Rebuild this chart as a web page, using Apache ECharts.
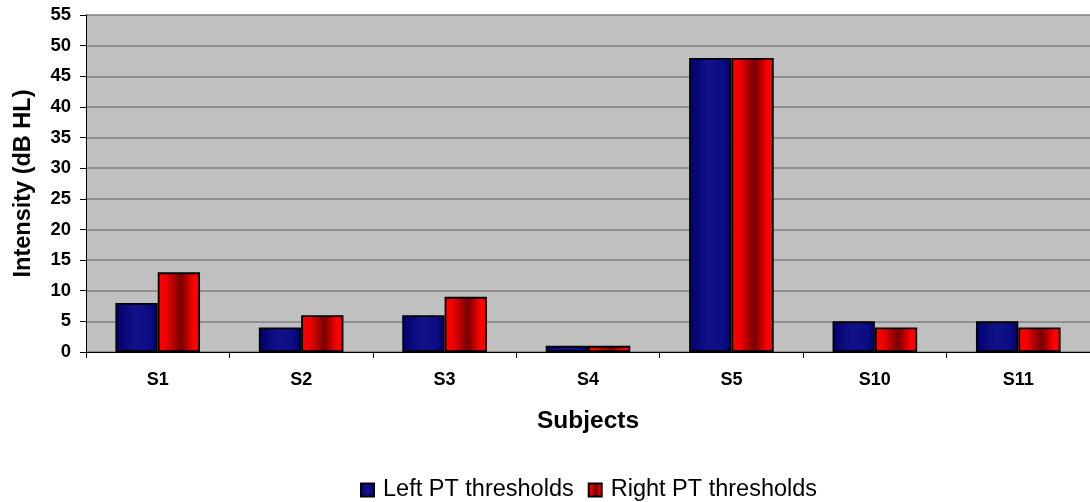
<!DOCTYPE html>
<html>
<head>
<meta charset="utf-8">
<script src="https://cdn.jsdelivr.net/npm/echarts@6/dist/echarts.min.js"></script>
<style>
html,body{margin:0;padding:0;background:#fff;}
#c{width:1090px;height:502px;}
</style>
</head>
<body>
<div id="c"></div>
<script>
var categories = ['S1','S2','S3','S4','S5','S10','S11'];
var leftPT = [8, 4, 6, 1, 48, 5, 5];
var rightPT = [13, 6, 9, 1, 48, 4, 4];
var seriesNames = ['Left PT thresholds', 'Right PT thresholds'];
var yTicks = {min: 0, max: 55, interval: 5};

var font = '"Liberation Sans", Arial, sans-serif';
var blueGrad = new echarts.graphic.LinearGradient(0,0,1,0,[
  {offset:0,color:'#00006e'},{offset:0.45,color:'#121288'},{offset:0.8,color:'#0c0c84'},{offset:1,color:'#000070'}]);
var redGrad = new echarts.graphic.LinearGradient(0,0,1,0,[
  {offset:0,color:'#ff0000'},{offset:0.2,color:'#f00000'},{offset:0.55,color:'#760000'},{offset:0.85,color:'#ff0000'},{offset:1,color:'#ff0000'}]);

var chart = echarts.init(document.getElementById('c'), null, {renderer:'canvas'});
chart.setOption({
  animation:false,
  backgroundColor:'#ffffff',
  grid:{left:86,right:0,top:15,bottom:150,show:true,backgroundColor:'#c0c0c0',borderWidth:0},
  legend:{
    left:355,top:473,itemWidth:13,itemHeight:13,itemGap:14,icon:'rect',
    textStyle:{fontFamily:font,fontSize:23.5,color:'#000',padding:[0,0,0,4]},
    data:seriesNames
  },
  xAxis:{
    type:'category',data:categories,
    axisLine:{lineStyle:{color:'#000',width:1}},
    axisTick:{show:true,length:6,lineStyle:{color:'#000'},alignWithLabel:false},
    axisLabel:{fontFamily:font,fontSize:18,fontWeight:'bold',color:'#000',margin:19},
    name:'Subjects',nameLocation:'middle',nameGap:57,
    nameTextStyle:{fontFamily:font,fontSize:24.5,fontWeight:'bold',color:'#000'}
  },
  yAxis:{
    type:'value',min:yTicks.min,max:yTicks.max,interval:yTicks.interval,
    axisLine:{show:true,lineStyle:{color:'#000',width:1}},
    axisTick:{show:true,length:6,lineStyle:{color:'#000'}},
    axisLabel:{fontFamily:font,fontSize:18.5,fontWeight:'bold',color:'#000',margin:15},
    splitLine:{show:true,lineStyle:{color:'#808080',width:1.5}},
    name:'Intensity (dB HL)',nameLocation:'middle',nameGap:50,
    nameTextStyle:{fontFamily:font,fontSize:23.5,fontWeight:'bold',color:'#000'}
  },
  series:[
    {name:seriesNames[0],type:'bar',data:leftPT,barGap:'0%',barCategoryGap:'41%',
     itemStyle:{color:blueGrad,borderColor:'#000',borderWidth:1.8}},
    {name:seriesNames[1],type:'bar',data:rightPT,barGap:'0%',barCategoryGap:'41%',
     itemStyle:{color:redGrad,borderColor:'#000',borderWidth:1.8}}
  ]
});
</script>
</body>
</html>
